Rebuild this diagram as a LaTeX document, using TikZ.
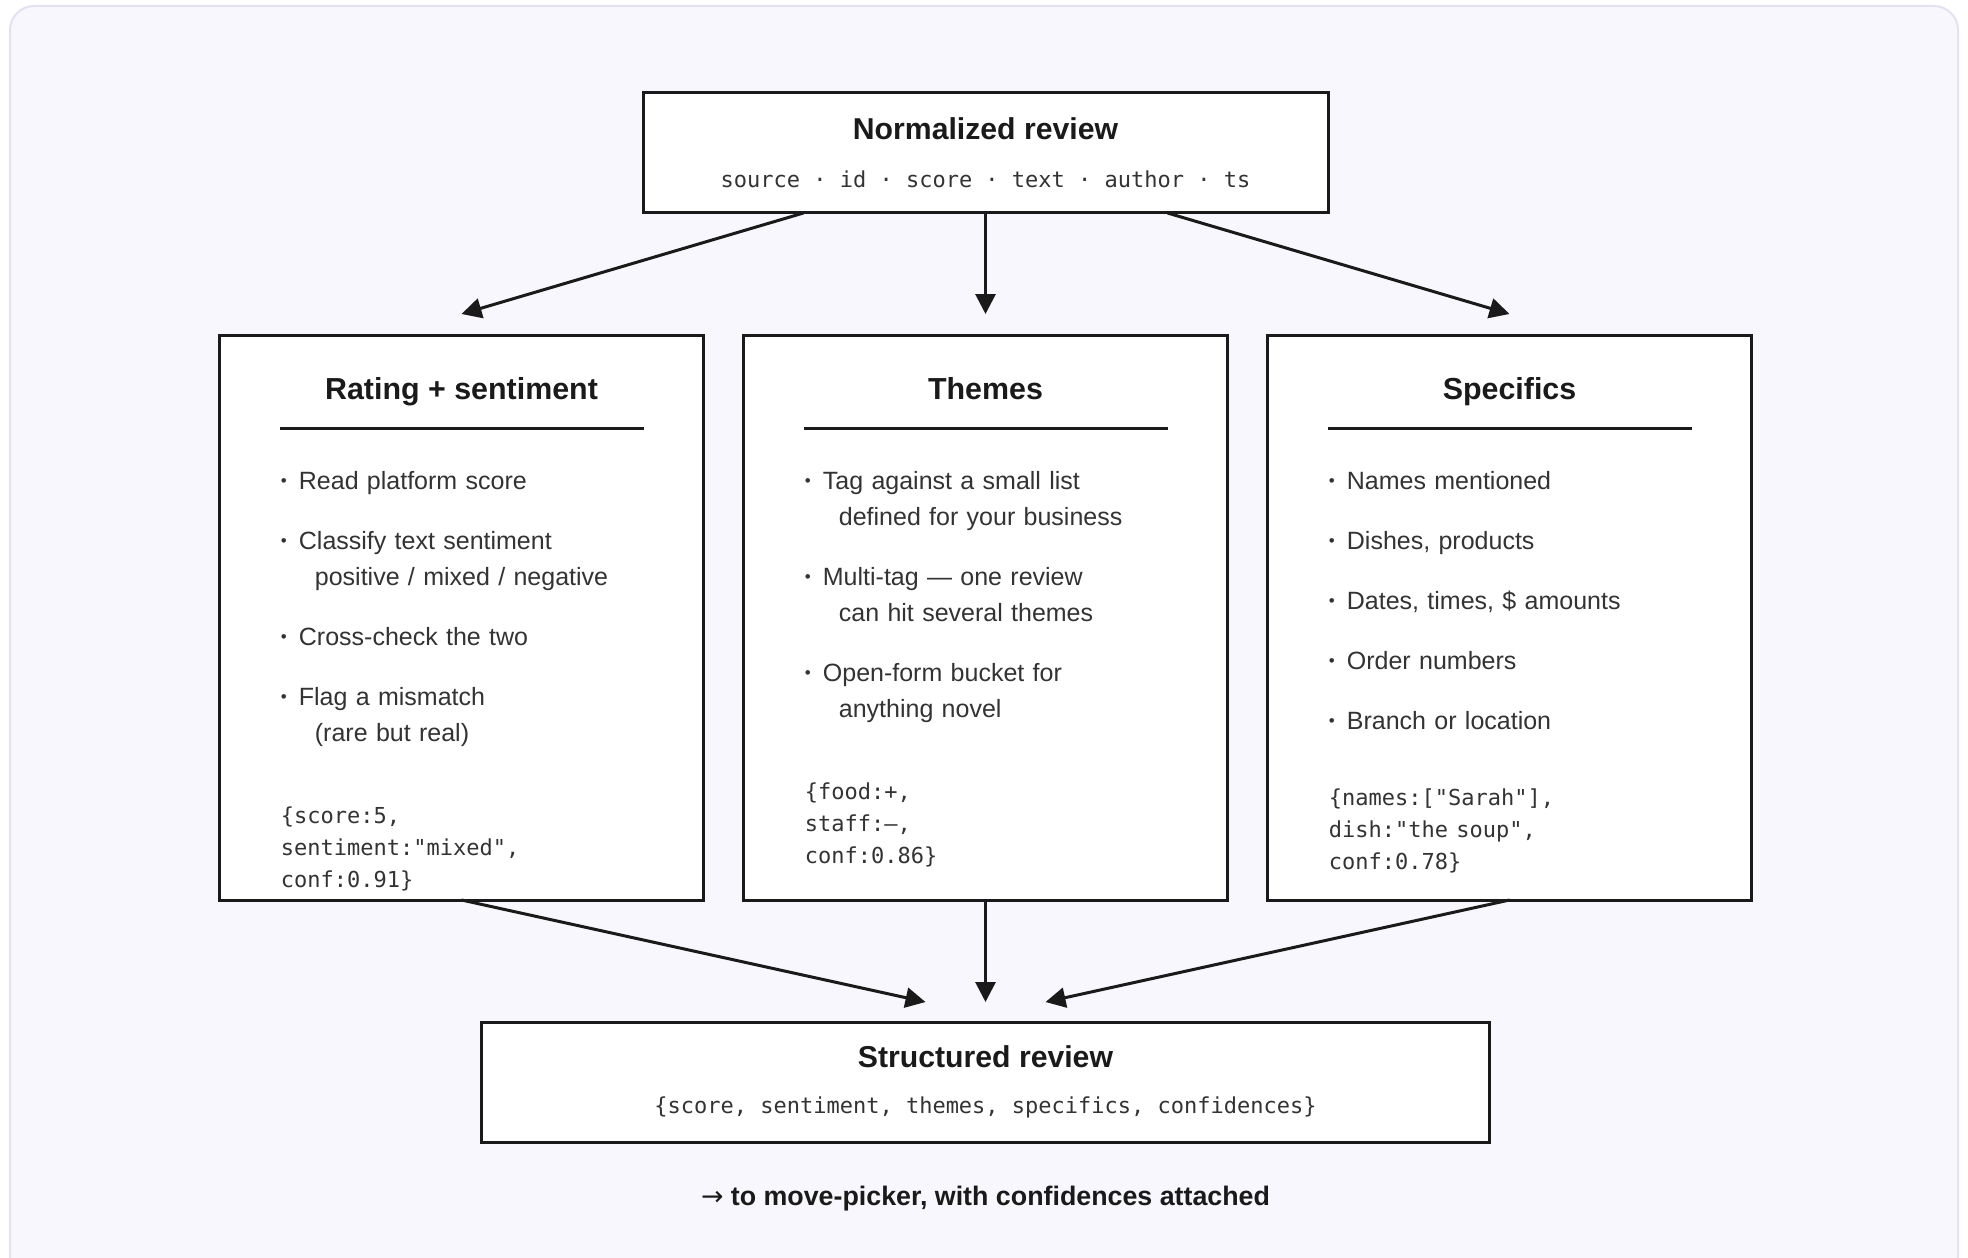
\documentclass[tikz,border=0pt]{standalone}
\usepackage{fontspec}
\usepackage{graphicx}
\setmainfont{Liberation Sans}
\setmonofont{DejaVu Sans Mono}
\newfontfamily\arrowfont{DejaVu Sans}
\usetikzlibrary{positioning,arrows.meta}
\definecolor{ink}{RGB}{26,26,26}
\definecolor{bodytext}{RGB}{51,51,51}
\definecolor{panelbg}{RGB}{248,247,253}
\definecolor{panelline}{RGB}{228,226,240}
\newcommand\wrapline{\hspace*{17pt}}
\newcommand\dotitem{\makebox[9pt][l]{\raisebox{1.3pt}{\scalebox{0.68}{•}}}}
\newcommand\codelines{\ttfamily\fontsize{11}{16}\selectfont}

\begin{document}
\begin{tikzpicture}[x=0.5pt, y=-0.5pt, >={Triangle[length=10pt,width=10pt]},
  box/.style={rectangle, draw=ink, line width=1.5pt, fill=white, inner sep=0pt, outer sep=0pt, align=center, text=ink},
  stage/.style={box, minimum width=242pt, minimum height=282.5pt},
  ends/.style={box, minimum height=60pt, font=\fontsize{15.1}{18}\selectfont\bfseries},
  colhead/.style={font=\fontsize{15.2}{18}\selectfont\bfseries, text=ink, inner sep=0pt, anchor=base},
  rule/.style={ink, line width=1.5pt},
  body/.style={inner sep=0pt, text width=205pt, align=left, text=bodytext, font=\fontsize{12.5}{18}\selectfont},
  flow/.style={->, ink, line width=1.5pt}]
	\useasboundingbox (0,0) rectangle (1968,1257);
	\draw[panelline, fill=panelbg, line width=1pt, rounded corners=12pt] (10,6) rectangle (1958,1280);

	% boxes
	\node[ends, minimum width=342.5pt] (norm) at (985.5,153) {Normalized review\\[6pt]{\color{bodytext}\mdseries\ttfamily\fontsize{11}{14}\selectfont source · id · score · text · author · ts}};
	\node[stage] (themes) [below = 61pt of norm] {};
	\node[stage] (rating) [left = 20pt of themes] {};
	\node[stage] (specs) [right = 20pt of themes] {};
	\node[ends, minimum width=504pt] (out) [below = 61pt of themes] {Structured review\\[5pt]{\color{bodytext}\mdseries\ttfamily\fontsize{11}{14}\selectfont \{score, sentiment, themes, specifics, confidences\}}};
	\node[font=\fontsize{13.4}{16}\selectfont\bfseries, text=ink, inner sep=0pt] (note) [below = 22pt of out] {{\arrowfont\mdseries →} to move-picker, with confidences attached};

	% column heads
	\node[colhead] (ratingH) at ([yshift=-32pt]rating.north) {Rating + sentiment};
	\node[colhead] (themesH) at ([yshift=-32pt]themes.north) {Themes};
	\node[colhead] (specsH) at ([yshift=-32pt]specs.north) {Specifics};
	\foreach \c in {rating,themes,specs}
		\draw[rule] ([xshift=30pt,yshift=-46.5pt]\c.north west) -- ([xshift=-30pt,yshift=-46.5pt]\c.north east);

	% column bodies
	\node[body] (ratingB) [below right = 68pt and 30.5pt of rating.north west] {%
		\dotitem Read platform score\\[12pt]
		\dotitem Classify text sentiment\\
		\wrapline positive / mixed / negative\\[12pt]
		\dotitem Cross-check the two\\[12pt]
		\dotitem Flag a mismatch\\
		\wrapline (rare but real)\\[25pt]
		\codelines \{score:5,\\
		sentiment:"mixed",\\
		conf:0.91\}\par};
	\node[body] (themesB) [below right = 68pt and 30.5pt of themes.north west] {%
		\dotitem Tag against a small list\\
		\wrapline defined for your business\\[12pt]
		\dotitem Multi-tag — one review\\
		\wrapline can hit several themes\\[12pt]
		\dotitem Open-form bucket for\\
		\wrapline anything novel\\[25pt]
		\codelines \{food:+,\\
		staff:–,\\
		conf:0.86\}\par};
	\node[body] (specsB) [below right = 68pt and 30.5pt of specs.north west] {%
		\dotitem Names mentioned\\[12pt]
		\dotitem Dishes, products\\[12pt]
		\dotitem Dates, times, \$ amounts\\[12pt]
		\dotitem Order numbers\\[12pt]
		\dotitem Branch or location\\[22pt]
		\codelines \{names:["Sarah"],\\
		dish:"the soup",\\
		conf:0.78\}\par};

	% connectors
	\draw[flow] ([xshift=-91pt]norm.south) -- ([yshift=10.5pt]rating.north);
	\draw[flow] (norm.south) -- ([yshift=10.5pt]themes.north);
	\draw[flow] ([xshift=91pt]norm.south) -- ([yshift=10.5pt]specs.north);
	\draw[flow] (rating.south) -- ([xshift=-30pt,yshift=10pt]out.north);
	\draw[flow] (themes.south) -- ([yshift=10pt]out.north);
	\draw[flow] (specs.south) -- ([xshift=30pt,yshift=10pt]out.north);
\end{tikzpicture}
\end{document}
